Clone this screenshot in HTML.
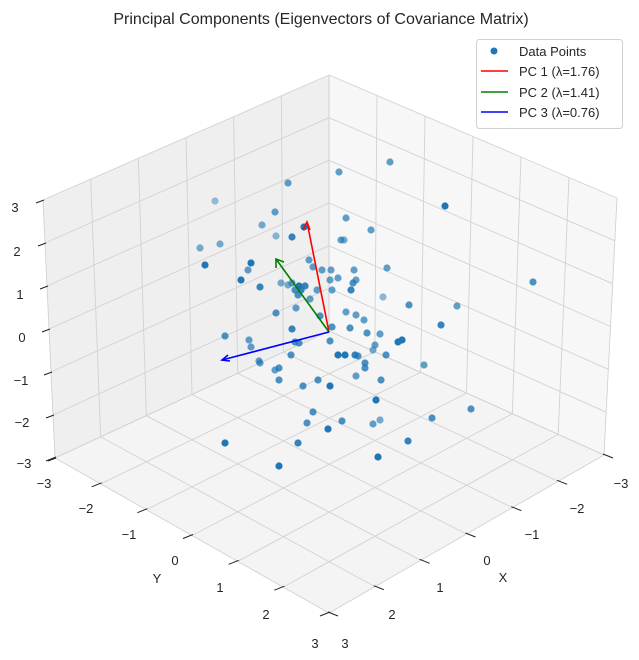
<!DOCTYPE html>
<html><head><meta charset="utf-8"><style>
html,body{margin:0;padding:0;background:#fff;}
svg{display:block;font-family:"Liberation Sans","DejaVu Sans",sans-serif;}
</style></head><body>
<svg id="s" width="639" height="660" viewBox="0 0 639 660" xmlns="http://www.w3.org/2000/svg">
<rect width="639" height="660" fill="#fff"/>
<g id="panes"></g>
<g id="grid" stroke="#d2d2d2" stroke-width="0.9" fill="none"></g>
<g id="ticks" stroke="#222" stroke-width="1" fill="none"></g>
<g id="pts" fill="#1f77b4"></g>
<g id="arrows" fill="none" stroke-width="1.6">
<line x1="329" y1="332" x2="307" y2="222" stroke="#ff0000"/>
<path d="M303,230 L307,222 L310,230" stroke="#ff0000"/>
<line x1="329" y1="332" x2="276" y2="259" stroke="#008000"/>
<path d="M276,268 L276,259 L284,262" stroke="#008000"/>
<line x1="329" y1="332" x2="222" y2="360" stroke="#0000ff"/>
<path d="M228,355 L222,360 L230,361" stroke="#0000ff"/>
</g>
<g font-size="13" fill="#262626" text-anchor="middle">
<text x="15" y="212">3</text><text x="17" y="256">2</text><text x="20" y="299">1</text><text x="22" y="342">0</text>
<text x="21" y="385">−1</text><text x="22" y="427">−2</text><text x="24" y="468">−3</text>
<text x="44" y="488">−3</text><text x="86" y="513">−2</text><text x="129" y="539">−1</text><text x="175" y="565">0</text>
<text x="220" y="592">1</text><text x="266" y="619">2</text><text x="315" y="648">3</text>
<text x="157" y="583">Y</text>
<text x="621" y="488">−3</text><text x="577" y="513">−2</text><text x="532" y="539">−1</text><text x="487" y="565">0</text>
<text x="440" y="592">1</text><text x="392" y="619">2</text><text x="345" y="648">3</text>
<text x="503" y="582">X</text>
</g>
<text x="321" y="24" font-size="16" fill="#262626" text-anchor="middle">Principal Components (Eigenvectors of Covariance Matrix)</text>
<g>
<rect x="476.5" y="39.5" width="146" height="89" rx="3" fill="#fff" fill-opacity="0.8" stroke="#d0d0d0"/>
<circle cx="494" cy="51" r="3.5" fill="#1f77b4"/>
<line x1="481" y1="71" x2="508" y2="71" stroke="#ff0000" stroke-width="1.6"/>
<line x1="481" y1="92" x2="508" y2="92" stroke="#008000" stroke-width="1.6"/>
<line x1="481" y1="112" x2="508" y2="112" stroke="#0000ff" stroke-width="1.6"/>
<g font-size="13" fill="#262626">
<text x="519" y="56">Data Points</text>
<text x="519" y="76">PC 1 (λ=1.76)</text>
<text x="519" y="97">PC 2 (λ=1.41)</text>
<text x="519" y="117">PC 3 (λ=0.76)</text>
</g>
</g>
</svg>
<script>
var C={};
C["1,1,0"]=[329,613];C["0,1,0"]=[604,455];C["1,0,0"]=[55,458];C["0,0,0"]=[329,331];
C["1,1,1"]=[329,345];C["0,1,1"]=[617,198];C["1,0,1"]=[43,200];C["0,0,1"]=[329,75];
function P(x,y,z){var u=(x+3)/6,v=(y+3)/6,w=(z+3)/6,r=[0,0];
for(var a=0;a<2;a++)for(var b=0;b<2;b++)for(var c=0;c<2;c++){
var wt=(a?u:1-u)*(b?v:1-v)*(c?w:1-w);var p=C[a+","+b+","+c];r[0]+=wt*p[0];r[1]+=wt*p[1];}
return r;}
var NS="http://www.w3.org/2000/svg";
function el(g,t,at){var e=document.createElementNS(NS,t);for(var k in at)e.setAttribute(k,at[k]);document.getElementById(g).appendChild(e);return e;}
function poly(g,pts,fill){el(g,"polygon",{points:pts.map(function(p){return p.join(",")}).join(" "),fill:fill});}
function ln(g,a,b){el(g,"line",{x1:a[0],y1:a[1],x2:b[0],y2:b[1]});}
poly("panes",[P(3,-3,-3),P(-3,-3,-3),P(-3,-3,3),P(3,-3,3)],"#efefef");
poly("panes",[P(-3,-3,-3),P(-3,3,-3),P(-3,3,3),P(-3,-3,3)],"#f7f7f7");
poly("panes",[P(3,-3,-3),P(3,3,-3),P(-3,3,-3),P(-3,-3,-3)],"#f4f4f4");
for(var t=-3;t<=3;t++){
ln("grid",P(t,-3,-3),P(t,-3,3));ln("grid",P(3,-3,t),P(-3,-3,t));
ln("grid",P(-3,t,-3),P(-3,t,3));ln("grid",P(-3,-3,t),P(-3,3,t));
ln("grid",P(t,-3,-3),P(t,3,-3));ln("grid",P(3,t,-3),P(-3,t,-3));
var a=P(3,-3,t);ln("ticks",[a[0]-7,a[1]+3],[a[0]+1,a[1]]);
var b=P(3,t,-3);ln("ticks",[b[0]-9,b[1]+3],[b[0]+1,b[1]-1]);
var c=P(t,3,-3);ln("ticks",[c[0]+9,c[1]+3],[c[0]-1,c[1]-1]);
}
var D=[[215,201,.45],[288,183,.7],[339,172,.7],[390,162,.7],[445,206,1],[533,282,.8],[275,212,.7],[262,225,.6],[304,227,1],[276,236,.5],
[346,218,.7],[341,240,.7],[344,240,.6],[371,230,.7],[292,237,.9],[200,248,.6],[220,244,.6],[205,265,1],[251,263,1],[248,270,.7],
[241,280,1],[260,287,.9],[281,283,.6],[309,260,.7],[313,267,.7],[322,270,.7],[330,280,.7],[338,278,.7],[354,270,.7],[356,280,.7],
[351,290,.9],[353,283,.8],[387,268,.7],[383,297,.5],[409,305,.8],[457,306,.7],[441,325,.9],[299,286,1],[305,286,.9],[301,290,.9],
[288,285,.6],[292,283,.7],[295,290,.8],[298,295,.8],[317,290,.7],[331,270,.7],[310,299,.7],[296,308,.7],[276,313,.8],[320,316,.8],
[332,327,.8],[346,312,.7],[356,315,.7],[364,320,.7],[367,333,.8],[380,334,.7],[398,342,1],[402,340,1],[386,355,.8],[375,345,.7],
[373,350,.6],[225,336,.8],[249,340,.7],[251,347,.7],[292,329,.9],[295,342,.8],[299,343,.8],[291,355,.8],[260,363,.7],[275,370,.7],
[279,380,.8],[338,355,1],[345,355,1],[355,355,.9],[358,356,.8],[365,368,.8],[356,376,.7],[381,380,.8],[376,400,1],[380,420,.6],
[424,365,.7],[471,409,.8],[432,418,.8],[408,441,.9],[378,457,1],[318,380,.8],[303,386,.8],[313,412,.8],[307,423,.8],[328,429,1],
[342,421,.8],[373,424,.7],[279,368,.8],[298,443,.9],[225,443,1],[279,466,1],[259,361,.7],[332,290,.7],[350,328,.8],[330,386,1],
[330,341,.8],[365,363,.8]];
D.forEach(function(d){el("pts","circle",{cx:d[0],cy:d[1],r:3.6,"fill-opacity":d[2]});});
</script>
</body></html>
